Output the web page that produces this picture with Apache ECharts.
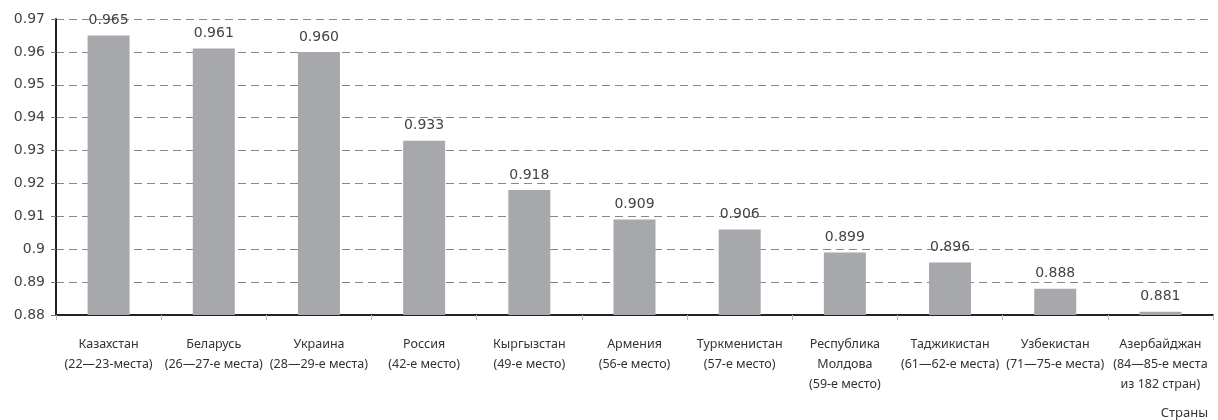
<!DOCTYPE html>
<html>
<head>
<meta charset="utf-8">
<script src="https://cdn.jsdelivr.net/npm/echarts@6/dist/echarts.min.js"></script>
<style>
  html, body { margin: 0; padding: 0; background: #fff; }
  #chart { width: 1218px; height: 420px; }
</style>
</head>
<body>
<div id="chart"></div>
<script>
// страны и их место в рейтинге
var countries = ['Казахстан', 'Беларусь', 'Украина', 'Россия', 'Кыргызстан', 'Армения',
    'Туркменистан', 'Республика\nМолдова', 'Таджикистан', 'Узбекистан', 'Азербайджан'];
var ranks = ['(22—23-места)', '(26—27-е места)', '(28—29-е места)', '(42-е место)', '(49-е место)',
    '(56-е место)', '(57-е место)', '(59-е место)', '(61—62-е места)', '(71—75-е места)',
    '(84—85-е места\nиз 182 стран)'];
var values = [0.965, 0.961, 0.960, 0.933, 0.918, 0.909, 0.906, 0.899, 0.896, 0.888, 0.881];

var yMin = 0.88, yMax = 0.97, yStep = 0.01;

var labels = countries.map(function (c, i) { return c + '\n' + ranks[i]; });

var font = '"Noto Sans", "Open Sans", sans-serif';
var numFont = '"DejaVu Sans", sans-serif';
var myChart = echarts.init(document.getElementById('chart'));
var option = {
    animation: false,
    textStyle: { fontFamily: font },
    grid: { left: 56, right: 5, top: 19, bottom: 105, containLabel: false },
    xAxis: {
        type: 'category',
        data: labels,
        axisLine: { lineStyle: { color: '#222', width: 2 } },
        axisTick: { show: true, length: 5, lineStyle: { color: '#bbb' } },
        axisLabel: {
            interval: 0,
            margin: 19,
            fontSize: 12.5,
            lineHeight: 20,
            color: '#333',
            fontFamily: font
        }
    },
    yAxis: {
        type: 'value',
        min: yMin,
        max: yMax,
        interval: yStep,
        axisLine: { show: true, lineStyle: { color: '#222', width: 2 } },
        axisTick: { show: true, length: 5, lineStyle: { color: '#777' } },
        axisLabel: { fontSize: 14, color: '#444', margin: 11, fontFamily: numFont },
        splitLine: { lineStyle: { color: '#888', type: [8, 5], width: 1 } }
    },
    series: [{
        type: 'bar',
        data: values,
        barWidth: 42,
        itemStyle: { color: '#a7a8ab' },
        label: {
            show: true,
            position: 'top',
            distance: 8,
            fontSize: 14,
            color: '#444',
            fontFamily: numFont,
            formatter: function (p) { return p.value.toFixed(3); }
        }
    }],
    graphic: [{
        type: 'text',
        right: 10,
        top: 407,
        style: { text: 'Страны', fontSize: 13, fill: '#333', fontFamily: font }
    }]
};
option && myChart.setOption(option);
</script>
</body>
</html>
